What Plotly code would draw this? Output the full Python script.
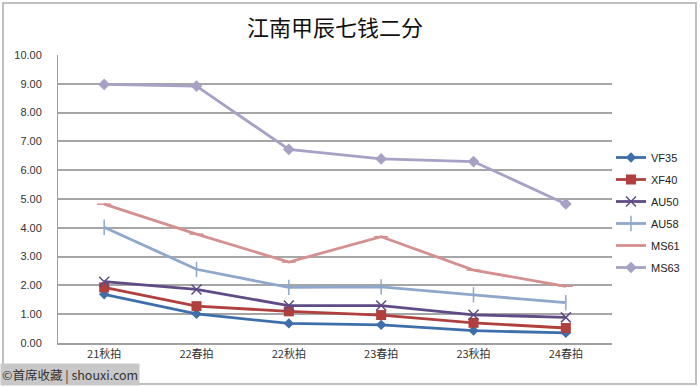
import plotly.graph_objects as go

categories = ["21秋拍", "22春拍", "22秋拍", "23春拍", "23秋拍", "24春拍"]
VF35 = [1.69, 1.01, 0.68, 0.63, 0.43, 0.35]
XF40 = [1.93, 1.28, 1.10, 0.97, 0.70, 0.52]
AU50 = [2.13, 1.86, 1.30, 1.30, 0.98, 0.89]
AU58 = [4.02, 2.56, 1.93, 1.95, 1.67, 1.40]
MS61 = [4.82, 3.78, 2.81, 3.69, 2.53, 1.97]
MS63 = [8.98, 8.92, 6.72, 6.39, 6.30, 4.83]
y_ticks = [0, 1, 2, 3, 4, 5, 6, 7, 8, 9, 10]

series = [
    ("VF35", VF35, "#3F6FAA", "diamond", 8, 0),
    ("XF40", XF40, "#B0403E", "square", 10, 0),
    ("AU50", AU50, "#5F4B86", "x-thin-open", 10, 1.5),
    ("AU58", AU58, "#8FA7CA", "line-ns-open", 11, 1.5),
    ("MS61", MS61, "#D4908F", "line-ew-open", 10, 1.5),
    ("MS63", MS63, "#A6A2C6", "diamond", 9, 0),
]

fig = go.Figure()
for name, vals, color, sym, size, mlw in series:
    fig.add_trace(go.Scatter(
        x=categories, y=vals, name=name, mode="lines+markers", legendgroup=name,
        line=dict(color=color, width=2.8),
        marker=dict(symbol=sym, size=size, color=color,
                    line=dict(color=color, width=mlw)),
    ))

W, H = 700, 387
L, R, T, B = 58, 88, 55, 44
pw, ph = W - L - R, H - T - B

def px(x):
    return (x - L) / pw

def py(y):
    return (H - B - y) / ph

fig.update_layout(
    width=W, height=H,
    margin=dict(l=L, r=R, t=T, b=B, autoexpand=False),
    paper_bgcolor="white", plot_bgcolor="white",
    font=dict(family="Noto Sans CJK SC, Liberation Sans, sans-serif", size=11, color="#333333"),
    title=dict(text="江南甲辰七钱二分", x=0.5, xanchor="center", xref="paper",
               y=1 - 28 / H, yanchor="middle",
               font=dict(size=22, color="#111111", family="Noto Sans CJK SC, sans-serif")),
    showlegend=True,
    legend=dict(x=px(611), y=py(143), xanchor="left", yanchor="top",
                font=dict(size=11, color="#222222", family="Liberation Sans, Noto Sans, sans-serif"),
                itemwidth=30, tracegroupgap=3, bgcolor="rgba(0,0,0,0)"),
    xaxis=dict(type="category", showgrid=False, showline=True, linecolor="#A0A0A0",
               linewidth=1.5, ticks="", tickfont=dict(size=11, color="#333333"),
               range=[-0.5, 5.5], fixedrange=True, automargin=False),
    yaxis=dict(range=[0, 10], tickvals=y_ticks, tickformat=".2f", showgrid=True,
               gridcolor="#A6A6A6", gridwidth=1.5, zeroline=False, showline=True,
               linecolor="#A0A0A0", linewidth=1, ticks="", ticklabelstandoff=13,
               automargin=False, fixedrange=True,
               tickfont=dict(size=11, color="#333333",
                             family="Liberation Sans, Noto Sans, sans-serif")),
)

# outer chart border
fig.add_shape(type="rect", xref="paper", yref="paper",
              x0=px(3), x1=px(696), y0=py(384), y1=py(3),
              line=dict(color="#BFBFBF", width=2), fillcolor="rgba(0,0,0,0)", layer="below")

# watermark
fig.add_annotation(xref="paper", yref="paper", x=px(0), y=py(386), xanchor="left", yanchor="bottom",
                   text="©首席收藏 | shouxi.com", showarrow=False,
                   bgcolor="#C8C8C8", borderpad=1,
                   font=dict(size=12.5, color="#333333", family="Noto Sans CJK SC, sans-serif"))

fig.write_html("out.html", config={"displayModeBar": False},
               post_script="document.body.style.margin='0';")
